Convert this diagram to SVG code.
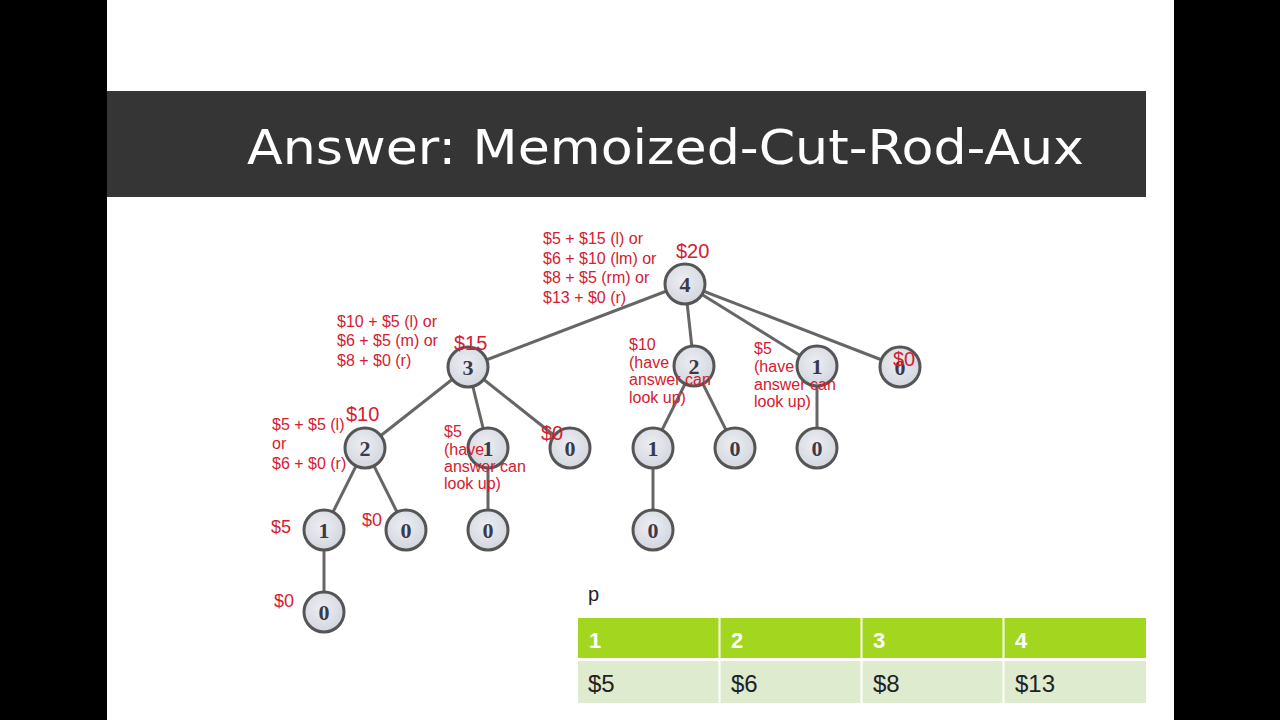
<svg xmlns="http://www.w3.org/2000/svg" width="1280" height="720" viewBox="0 0 1280 720">
<defs>
<radialGradient id="ng" cx="45%" cy="40%" r="60%">
<stop offset="0" stop-color="#eceef3"/>
<stop offset="1" stop-color="#d3d6de"/>
</radialGradient>
<style>
.edge{stroke:#666;stroke-width:3;fill:none}
.node circle{fill:url(#ng);stroke:#555;stroke-width:3}
.node text{font-family:"Liberation Serif",serif;font-weight:bold;font-size:22px;fill:#3a3a4a;text-anchor:middle}
.r{font-family:"Liberation Sans",Arial,sans-serif;font-size:16px;fill:#d42030}
.rb{font-family:"Liberation Sans",Arial,sans-serif;font-size:20px;fill:#d42030}
.rm{font-family:"Liberation Sans",Arial,sans-serif;font-size:18px;fill:#d42030}
.th{font-family:"Liberation Sans",Arial,sans-serif;font-size:22px;font-weight:bold;fill:#fff}
.td{font-family:"Liberation Sans",Arial,sans-serif;font-size:24px;fill:#222}
</style>
</defs>
<rect x="0" y="0" width="1280" height="720" fill="#000"/>
<rect x="107" y="0" width="1067" height="720" fill="#fff"/>
<rect x="107" y="91" width="1039" height="106" fill="#353535"/>
<text x="247" y="164" font-family="'DejaVu Sans',sans-serif" font-size="48" fill="#fff" textLength="837" lengthAdjust="spacingAndGlyphs">Answer: Memoized-Cut-Rod-Aux</text>

<g id="connectors">
<line class="edge" x1="685" y1="284" x2="468" y2="367"/>
<line class="edge" x1="685" y1="284" x2="694" y2="366"/>
<line class="edge" x1="685" y1="284" x2="817" y2="366"/>
<line class="edge" x1="685" y1="284" x2="900" y2="367"/>
<line class="edge" x1="468" y1="367" x2="365" y2="448"/>
<line class="edge" x1="468" y1="367" x2="488" y2="448"/>
<line class="edge" x1="468" y1="367" x2="570" y2="448"/>
<line class="edge" x1="694" y1="366" x2="653" y2="448"/>
<line class="edge" x1="694" y1="366" x2="735" y2="448"/>
<line class="edge" x1="817" y1="366" x2="817" y2="448"/>
<line class="edge" x1="365" y1="448" x2="324" y2="530"/>
<line class="edge" x1="365" y1="448" x2="406" y2="530"/>
<line class="edge" x1="488" y1="448" x2="488" y2="530"/>
<line class="edge" x1="653" y1="448" x2="653" y2="530"/>
<line class="edge" x1="324" y1="530" x2="324" y2="612"/>
</g>

<g id="n4" class="node"><circle cx="685" cy="284" r="20"/><text x="685" y="292">4</text></g>
<g id="n3" class="node"><circle cx="468" cy="367" r="20"/><text x="468" y="375">3</text></g>
<g id="n2a" class="node"><circle cx="694" cy="366" r="20"/><text x="694" y="374">2</text></g>
<g id="n1a" class="node"><circle cx="817" cy="366" r="20"/><text x="817" y="374">1</text></g>
<g id="n0a" class="node"><circle cx="900" cy="367" r="20"/><text x="900" y="375">0</text></g>
<g id="n2b" class="node"><circle cx="365" cy="448" r="20"/><text x="365" y="456">2</text></g>
<g id="n1b" class="node"><circle cx="488" cy="448" r="20"/><text x="488" y="456">1</text></g>
<g id="n0b" class="node"><circle cx="570" cy="448" r="20"/><text x="570" y="456">0</text></g>
<g id="n1c" class="node"><circle cx="653" cy="448" r="20"/><text x="653" y="456">1</text></g>
<g id="n0c" class="node"><circle cx="735" cy="448" r="20"/><text x="735" y="456">0</text></g>
<g id="n0d" class="node"><circle cx="817" cy="448" r="20"/><text x="817" y="456">0</text></g>
<g id="n1d" class="node"><circle cx="324" cy="530" r="20"/><text x="324" y="538">1</text></g>
<g id="n0e" class="node"><circle cx="406" cy="530" r="20"/><text x="406" y="538">0</text></g>
<g id="n0f" class="node"><circle cx="488" cy="530" r="20"/><text x="488" y="538">0</text></g>
<g id="n0g" class="node"><circle cx="653" cy="530" r="20"/><text x="653" y="538">0</text></g>
<g id="n0h" class="node"><circle cx="324" cy="612" r="20"/><text x="324" y="620">0</text></g>

<g id="labels">
<text class="r" x="543" y="244">$5 + $15 (l) or</text>
<text class="r" x="543" y="264">$6 + $10 (lm) or</text>
<text class="r" x="543" y="283">$8 + $5 (rm) or</text>
<text class="r" x="543" y="303">$13 + $0 (r)</text>
<text class="rb" x="676" y="258">$20</text>
<text class="r" x="337" y="327">$10 + $5 (l) or</text>
<text class="r" x="337" y="346">$6 + $5 (m) or</text>
<text class="r" x="337" y="366">$8 + $0 (r)</text>
<text class="rb" x="454" y="350">$15</text>
<text class="rb" x="346" y="421">$10</text>
<text class="r" x="272" y="430">$5 + $5 (l)</text>
<text class="r" x="272" y="449">or</text>
<text class="r" x="272" y="469">$6 + $0 (r)</text>
<text class="r" x="444" y="437">$5</text>
<text class="r" x="444" y="455">(have</text>
<text class="r" x="444" y="472">answer can</text>
<text class="r" x="444" y="489">look up)</text>
<text class="rb" x="541" y="440">$0</text>
<text class="r" x="629" y="350">$10</text>
<text class="r" x="629" y="368">(have</text>
<text class="r" x="629" y="385">answer can</text>
<text class="r" x="629" y="403">look up)</text>
<text class="r" x="754" y="354">$5</text>
<text class="r" x="754" y="372">(have</text>
<text class="r" x="754" y="390">answer can</text>
<text class="r" x="754" y="407">look up)</text>
<text class="rb" x="893" y="366">$0</text>
<text class="rm" x="271" y="533">$5</text>
<text class="rm" x="362" y="526">$0</text>
<text class="rm" x="274" y="607">$0</text>
</g>

<g id="table">
<text x="588" y="601" font-family="'Liberation Sans',Arial,sans-serif" font-size="20" fill="#222">p</text>
<rect x="578" y="618" width="568" height="40" fill="#a3d61f"/>
<rect x="578" y="661" width="568" height="42" fill="#dfebcf"/>
<line x1="719.5" y1="618" x2="719.5" y2="703" stroke="#fff" stroke-width="2"/>
<line x1="861.5" y1="618" x2="861.5" y2="703" stroke="#fff" stroke-width="2"/>
<line x1="1003.5" y1="618" x2="1003.5" y2="703" stroke="#fff" stroke-width="2"/>
<text class="th" x="589" y="648">1</text>
<text class="th" x="731" y="648">2</text>
<text class="th" x="873" y="648">3</text>
<text class="th" x="1015" y="648">4</text>
<text class="td" x="588" y="692">$5</text>
<text class="td" x="731" y="692">$6</text>
<text class="td" x="873" y="692">$8</text>
<text class="td" x="1015" y="692">$13</text>
</g>
</svg>
